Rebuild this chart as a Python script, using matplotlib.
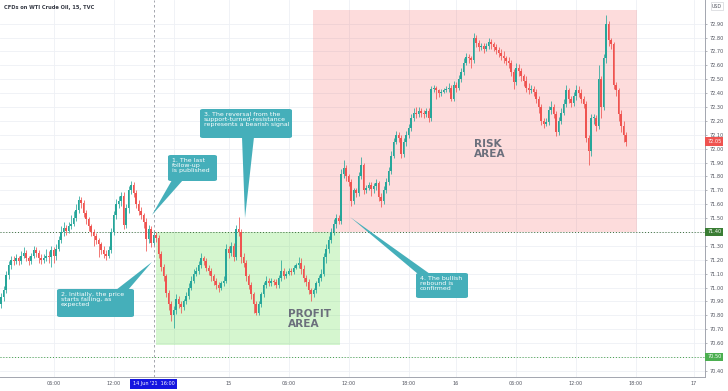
import matplotlib.pyplot as plt
from matplotlib.patches import FancyBboxPatch, Polygon, Rectangle

W, H = 728, 391

# 15-minute closes, one per bar (open of each bar = previous close)
first_open = 70.88
closes = [
    70.93, 70.98, 71.09, 71.16, 71.20, 71.19, 71.21, 71.19, 71.23, 71.25,
    71.21, 71.19, 71.23, 71.27, 71.25, 71.21, 71.20, 71.21, 71.23, 71.22,
    71.27, 71.23, 71.28, 71.34, 71.40, 71.43, 71.41, 71.44, 71.46, 71.50,
    71.56, 71.63, 71.61, 71.54, 71.49, 71.44, 71.40, 71.37, 71.34, 71.31,
    71.27, 71.24, 71.23, 71.27, 71.40, 71.52, 71.60, 71.62, 71.66, 71.45,
    71.57, 71.70, 71.74, 71.68, 71.60, 71.55, 71.52, 71.47, 71.35, 71.42,
    71.32, 71.38, 71.36, 71.24, 71.15, 71.08, 70.96, 70.88, 70.80, 70.84,
    70.92, 70.88, 70.86, 70.90, 70.94, 71.00, 71.05, 71.10, 71.12, 71.16,
    71.21, 71.19, 71.14, 71.12, 71.08, 71.05, 71.02, 71.00, 71.03, 71.05,
    71.28, 71.25, 71.30, 71.22, 71.42, 71.40, 71.22, 71.18, 71.08, 71.02,
    70.95, 70.88, 70.82, 70.88, 70.95, 71.02, 71.05, 71.03, 71.05, 71.04,
    71.02, 71.07, 71.12, 71.08, 71.10, 71.12, 71.11, 71.14, 71.16, 71.18,
    71.13, 71.07, 71.04, 70.98, 70.95, 70.98, 71.03, 71.07, 71.10, 71.22,
    71.28, 71.34, 71.40, 71.46, 71.50, 71.48, 71.82, 71.86, 71.80, 71.76,
    71.62, 71.70, 71.68, 71.80, 71.88, 71.70, 71.72, 71.74, 71.71, 71.73,
    71.75, 71.65, 71.62, 71.70, 71.76, 71.84, 71.95, 72.05, 72.10, 72.08,
    71.96, 72.05, 72.10, 72.15, 72.22, 72.26, 72.25, 72.27, 72.26, 72.25,
    72.27, 72.22, 72.43, 72.44, 72.42, 72.40, 72.41, 72.42, 72.43, 72.44,
    72.36, 72.46, 72.44, 72.50, 72.55, 72.62, 72.66, 72.65, 72.64, 72.80,
    72.76, 72.73, 72.74, 72.72, 72.74, 72.77, 72.75, 72.73, 72.71, 72.69,
    72.67, 72.65, 72.63, 72.62, 72.55, 72.48, 72.58, 72.56, 72.52, 72.49,
    72.44, 72.42, 72.43, 72.41, 72.36, 72.30, 72.20, 72.18, 72.19, 72.28,
    72.30, 72.25, 72.12, 72.20, 72.26, 72.32, 72.42, 72.36, 72.33, 72.38,
    72.42, 72.40, 72.36, 72.32, 72.08, 71.98, 72.22, 72.22, 72.16, 72.50,
    72.30, 72.65, 72.90, 72.78, 72.75, 72.46, 72.42, 72.25, 72.16, 72.10,
    72.05,
]
highs = [
    70.96, 71.01, 71.12, 71.19, 71.23, 71.23, 71.24, 71.23, 71.26, 71.29,
    71.27, 71.23, 71.25, 71.30, 71.29, 71.27, 71.24, 71.24, 71.28, 71.26,
    71.30, 71.29, 71.31, 71.37, 71.44, 71.47, 71.45, 71.47, 71.52, 71.55,
    71.60, 71.66, 71.65, 71.63, 71.56, 71.51, 71.46, 71.42, 71.39, 71.36,
    71.33, 71.30, 71.27, 71.30, 71.43, 71.55, 71.64, 71.66, 71.69, 71.69,
    71.60, 71.73, 71.77, 71.76, 71.70, 71.63, 71.58, 71.54, 71.50, 71.45,
    71.44, 71.41, 71.40, 71.38, 71.26, 71.17, 71.10, 70.98, 70.90, 70.87,
    70.95, 70.94, 70.90, 70.92, 70.97, 71.03, 71.08, 71.13, 71.15, 71.19,
    71.25, 71.23, 71.21, 71.16, 71.14, 71.10, 71.07, 71.04, 71.05, 71.08,
    71.31, 71.30, 71.33, 71.32, 71.45, 71.51, 71.42, 71.25, 71.20, 71.10,
    71.04, 70.97, 70.90, 70.90, 70.97, 71.04, 71.08, 71.07, 71.07, 71.06,
    71.06, 71.09, 71.20, 71.14, 71.12, 71.14, 71.14, 71.16, 71.18, 71.22,
    71.21, 71.16, 71.09, 71.06, 71.00, 71.00, 71.05, 71.09, 71.13, 71.25,
    71.31, 71.37, 71.43, 71.49, 71.53, 71.52, 71.85, 71.92, 71.88, 71.82,
    71.78, 71.72, 71.72, 71.83, 71.94, 71.90, 71.74, 71.76, 71.76, 71.75,
    71.78, 71.77, 71.68, 71.73, 71.79, 71.87, 71.98, 72.08, 72.13, 72.12,
    72.10, 72.08, 72.13, 72.18, 72.25, 72.29, 72.30, 72.30, 72.29, 72.28,
    72.29, 72.29, 72.45, 72.46, 72.45, 72.43, 72.43, 72.44, 72.45, 72.47,
    72.46, 72.49, 72.48, 72.53, 72.58, 72.65, 72.69, 72.68, 72.67, 72.83,
    72.82, 72.78, 72.76, 72.76, 72.76, 72.80, 72.79, 72.77, 72.75, 72.73,
    72.72, 72.70, 72.67, 72.66, 72.64, 72.57, 72.62, 72.61, 72.58, 72.54,
    72.52, 72.47, 72.46, 72.45, 72.43, 72.38, 72.32, 72.22, 72.22, 72.31,
    72.34, 72.32, 72.27, 72.23, 72.29, 72.36, 72.46, 72.44, 72.38, 72.41,
    72.46, 72.45, 72.43, 72.38, 72.34, 72.10, 72.25, 72.25, 72.24, 72.60,
    72.52, 72.68, 72.96, 72.92, 72.80, 72.77, 72.48, 72.44, 72.28, 72.20,
    72.12,
]
lows = [
    70.85, 70.90, 70.96, 71.06, 71.13, 71.16, 71.17, 71.16, 71.17, 71.21,
    71.19, 71.16, 71.17, 71.21, 71.22, 71.18, 71.17, 71.18, 71.19, 71.18,
    71.15, 71.18, 71.20, 71.26, 71.32, 71.37, 71.38, 71.39, 71.42, 71.44,
    71.48, 71.54, 71.57, 71.51, 71.46, 71.41, 71.37, 71.30, 71.31, 71.22,
    71.24, 71.21, 71.20, 71.21, 71.25, 71.38, 71.49, 71.57, 71.59, 71.42,
    71.43, 71.54, 71.67, 71.65, 71.57, 71.52, 71.49, 71.43, 71.26, 71.32,
    71.29, 71.30, 71.33, 71.21, 71.12, 71.05, 70.93, 70.84, 70.76, 70.71,
    70.81, 70.85, 70.82, 70.84, 70.88, 70.92, 70.98, 71.03, 71.08, 71.10,
    71.14, 71.16, 71.12, 71.09, 71.05, 71.02, 70.99, 70.97, 70.98, 71.01,
    71.03, 71.21, 71.23, 71.19, 71.20, 71.37, 71.18, 71.15, 71.05, 70.99,
    70.92, 70.82, 70.80, 70.80, 70.86, 70.93, 71.00, 71.01, 71.01, 71.02,
    71.00, 71.00, 71.05, 71.06, 71.07, 71.09, 71.09, 71.10, 71.13, 71.14,
    71.10, 71.04, 71.01, 70.95, 70.90, 70.93, 70.96, 71.01, 71.05, 71.08,
    71.18, 71.25, 71.32, 71.38, 71.43, 71.46, 71.46, 71.79, 71.77, 71.73,
    71.59, 71.60, 71.65, 71.66, 71.78, 71.67, 71.68, 71.70, 71.66, 71.68,
    71.70, 71.62, 71.58, 71.60, 71.68, 71.74, 71.82, 71.93, 72.03, 72.05,
    71.93, 71.94, 72.02, 72.08, 72.13, 72.20, 72.22, 72.23, 72.23, 72.22,
    72.23, 72.19, 72.20, 72.41, 72.36, 72.37, 72.38, 72.40, 72.41, 72.41,
    72.34, 72.34, 72.41, 72.42, 72.48, 72.53, 72.60, 72.62, 72.58, 72.62,
    72.73, 72.70, 72.71, 72.69, 72.70, 72.72, 72.72, 72.70, 72.68, 72.66,
    72.64, 72.62, 72.60, 72.58, 72.52, 72.43, 72.46, 72.52, 72.49, 72.45,
    72.41, 72.39, 72.40, 72.38, 72.33, 72.26, 72.17, 72.15, 72.16, 72.17,
    72.25, 72.22, 72.09, 72.10, 72.18, 72.24, 72.30, 72.33, 72.30, 72.31,
    72.35, 72.37, 72.33, 72.29, 72.05, 71.88, 71.95, 72.18, 72.13, 72.14,
    72.22, 72.28, 72.62, 72.74, 72.72, 72.43, 72.38, 72.20, 72.12, 72.05,
    72.02,
]

price_ticks = [round(70.40 + 0.10 * k, 2) for k in range(26)]
# the 18:00 label of the first day sits under the cursor's time label
time_labels = ["06:00", "12:00", "", "15", "06:00", "12:00",
               "18:00", "16", "06:00", "12:00", "18:00", "17"]
time_ticks = [21, 45, 69, 91, 115, 139, 163, 182, 206, 230, 254, 277]
cursor_bar = 61
cursor_label = "14 Jun '21  16:00"
support_level = 71.40
lower_level = 70.50
last_price = 72.05

UP = "#26a69a"
DOWN = "#ef5350"
TEAL = "#45afba"
AXIS_TEXT = "#50535e"


def fxy(x, y):
    """Reference-image pixel (top-left origin) to figure fraction."""
    return x / W, 1 - y / H


fig = plt.figure(figsize=(W / 100, H / 100), dpi=100)
ax = fig.add_axes([0, 1 - 377 / H, 705 / W, 377 / H])
ax.set_xlim(-0.4, 281.6)
ax.set_ylim(70.356, 73.07)

# zones
ax.add_patch(Rectangle((62, 70.586), 73.6, support_level - 70.586,
                       facecolor=(0.35, 0.87, 0.25, 0.25), edgecolor="none", zorder=1))
ax.add_patch(Rectangle((124.8, support_level), 129.6, 73.0 - support_level,
                       facecolor=(0.96, 0.26, 0.26, 0.18), edgecolor="none", zorder=1))

# candles
opens = [first_open] + closes[:-1]
bars = list(range(len(closes)))
colors = [UP if c >= o else DOWN for o, c in zip(opens, closes)]
bottoms = [min(o, c) for o, c in zip(opens, closes)]
heights = [max(abs(c - o), 0.006) for o, c in zip(opens, closes)]
ax.vlines(bars, lows, highs, colors=colors, linewidth=0.55, zorder=3)
ax.bar(bars, heights, bottom=bottoms, width=0.7, color=colors, linewidth=0, zorder=4)

# levels and cursor
ax.axhline(support_level, color="#3c6e3a", linestyle=(0, (1, 2)), linewidth=0.7, zorder=2)
ax.axhline(lower_level, color="#43a047", linestyle=(0, (1, 2)), linewidth=0.7, zorder=2)
ax.axvline(cursor_bar, color="#9598a1", linestyle=(0, (3, 3)), linewidth=0.6, zorder=5)

# axes styling; labelled levels get their own coloured tag instead of a tick label
tag_levels = (support_level, lower_level)
ax.set_xticks(time_ticks)
ax.set_xticklabels(time_labels)
ax.set_yticks(price_ticks)
ax.set_yticklabels(["" if p in tag_levels else f"{p:.2f}" for p in price_ticks])
ax.yaxis.tick_right()
ax.tick_params(axis="y", length=1.5, width=0.5, pad=1.5, labelsize=3.6,
               colors="#9598a1", labelcolor=AXIS_TEXT)
ax.tick_params(axis="x", length=0, pad=3, labelsize=3.5, labelcolor=AXIS_TEXT)
ax.grid(color="#eef0f5", linewidth=0.6, zorder=0)
ax.set_axisbelow(True)
for side in ("left", "top"):
    ax.spines[side].set_visible(False)
for side in ("right", "bottom"):
    ax.spines[side].set_color("#a3a6af")
    ax.spines[side].set_linewidth(0.7)

# price tags on the right axis
ytrans = ax.get_yaxis_transform()
for level, face in ((support_level, "#3a7d34"), (lower_level, "#4caf50"), (last_price, DOWN)):
    ax.text(1.003, level, f"{level:.2f}", transform=ytrans, ha="left", va="center",
            fontsize=3.6, color="white", zorder=10, clip_on=False,
            bbox=dict(boxstyle="square,pad=0.35", facecolor=face, edgecolor="none"))

# cursor time label
ax.text(cursor_bar, -0.018, cursor_label, transform=ax.get_xaxis_transform(),
        ha="center", va="center", fontsize=3.5, color="white", zorder=10, clip_on=False,
        bbox=dict(boxstyle="square,pad=0.5", facecolor="#1616e0", edgecolor="none"))

fig.text(*fxy(4, 8), "CFDs on WTI Crude Oil, 15, TVC", fontsize=3.7, fontweight="bold",
         color="#363a45", ha="left", va="center")
fig.text(*fxy(717, 6), "USD", fontsize=3.4, color=AXIS_TEXT, ha="center", va="center",
         bbox=dict(boxstyle="square,pad=0.3", facecolor="white", edgecolor="#c8cad0", linewidth=0.4))

# zone captions
fig.text(*fxy(288, 309), "PROFIT\nAREA", fontsize=7.6, fontweight="bold", color="#6b6f7c",
         ha="left", va="top", linespacing=1.0)
fig.text(*fxy(474, 139), "RISK\nAREA", fontsize=7.6, fontweight="bold", color="#6b6f7c",
         ha="left", va="top", linespacing=1.0)

# callouts: box (x0, y0, x1, y1), text, tail polygon in reference pixels
callouts = [
    ((168, 155, 217, 181), "1. The last\nfollow-up\nis published",
     [(172, 180), (183, 180), (152, 215)]),
    ((57, 289, 134, 317), "2. Initially, the price\nstarts falling, as\nexpected",
     [(116, 290), (128, 290), (152, 262)]),
    ((200, 109, 292, 138), "3. The reversal from the\nsupport-turned-resistance\nrepresents a bearish signal",
     [(242, 137), (254, 137), (245, 218)]),
    ((416, 273, 468, 298), "4. The bullish\nrebound is\nconfirmed",
     [(418, 274), (430, 274), (350, 217)]),
]
for (x0, y0, x1, y1), text, tail in callouts:
    fig.add_artist(Polygon([fxy(x, y) for x, y in tail], closed=True,
                           transform=fig.transFigure, facecolor=TEAL, edgecolor="none", zorder=20))
    fig.add_artist(FancyBboxPatch(fxy(x0, y1), (x1 - x0) / W, (y1 - y0) / H,
                                  boxstyle="round,pad=0,rounding_size=0.004",
                                  transform=fig.transFigure, facecolor=TEAL,
                                  edgecolor="none", zorder=20))
    fig.text(*fxy(x0 + 4, y0 + 3), text, fontsize=4.5, color="white", ha="left", va="top",
             linespacing=1.05, zorder=21)

fig.savefig("out.png", dpi=100)
